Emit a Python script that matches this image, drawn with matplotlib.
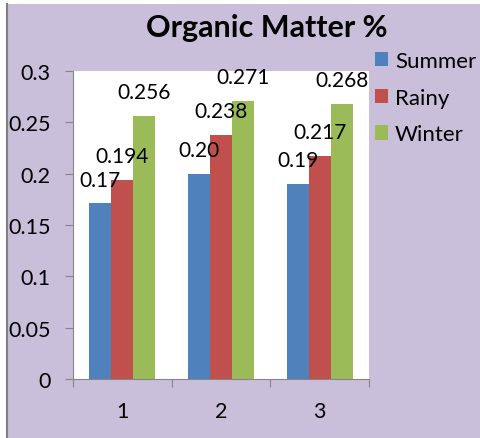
import matplotlib
matplotlib.use("Agg")
import matplotlib.pyplot as plt
import numpy as np
from matplotlib.patches import Rectangle
from matplotlib.lines import Line2D

categories = ["1", "2", "3"]
series_names = ["Summer", "Rainy", "Winter"]
summer = [0.171, 0.200, 0.190]
rainy = [0.194, 0.238, 0.217]
winter = [0.256, 0.271, 0.268]
summer_labels = ["0.17", "0.20", "0.19"]
rainy_labels = ["0.194", "0.238", "0.217"]
winter_labels = ["0.256", "0.271", "0.268"]
yticks = [0, 0.05, 0.1, 0.15, 0.2, 0.25, 0.3]
ytick_labels = ["0", "0.05", "0.1", "0.15", "0.2", "0.25", "0.3"]

colors = ["#4f81bd", "#c0504d", "#9bbb59"]
bg = "#c9bfda"
FONT = "Lato"

W, H = 481, 439
fig = plt.figure(figsize=(W / 100, H / 100), dpi=100, facecolor="white")
fig.patches.append(Rectangle((6 / W, 0), 1 - 6 / W, 1 - 5 / H, transform=fig.transFigure,
                             facecolor=bg, edgecolor="none", zorder=-5))
fig.lines.append(Line2D([6.5 / W, 6.5 / W], [0, 1 - 5 / H], transform=fig.transFigure,
                        color="#7f7f7f", lw=1.5, zorder=-4))

ax = fig.add_axes([73 / W, (H - 380) / H, 296 / W, 308 / H])
ax.set_facecolor("white")

x = np.arange(1, len(categories) + 1)
w = 0.222
all_vals = [summer, rainy, winter]
all_labels = [summer_labels, rainy_labels, winter_labels]
for i, (vals, labs, c, name) in enumerate(zip(all_vals, all_labels, colors, series_names)):
    pos = x + (i - 1) * w
    ax.bar(pos, vals, width=w, color=c, label=name, zorder=2)
    for p, v, t in zip(pos, vals, labs):
        ax.annotate(t, (p, v), xytext=(0, 10), textcoords="offset points",
                    ha="center", va="bottom", fontsize=15, family=FONT, color="black", zorder=3)

ax.set_xlim(0.5, 3.5)
ax.set_ylim(0, 0.3)
ax.set_yticks(yticks)
ax.set_yticklabels(ytick_labels, family=FONT, fontsize=15.5)
ax.set_xticks([0.5, 1.5, 2.5, 3.5])
ax.set_xticklabels([])
ax.set_xticks(x, minor=True)
ax.set_xticklabels(categories, minor=True, family=FONT, fontsize=15.5)
ax.tick_params(axis="x", which="minor", length=0, pad=16)
ax.tick_params(axis="x", which="major", length=6, color="#868686")
ax.tick_params(axis="y", length=6, color="#868686", pad=10)
for s in ["top", "right"]:
    ax.spines[s].set_visible(False)
for s in ["left", "bottom"]:
    ax.spines[s].set_color("#868686")

fig.text(267 / W, 1 - 28 / H, "Organic Matter %", ha="center", va="center",
         fontsize=22, fontweight="bold", family=FONT)

leg = fig.legend(loc="upper left", bbox_to_anchor=(375 / W, 1 - 52 / H), frameon=False,
                 prop={"family": FONT, "size": 16}, handlelength=0.6, handleheight=0.6,
                 handletextpad=0.3, labelspacing=0.75, borderaxespad=0, borderpad=0)

fig.savefig("out.png", dpi=100, facecolor=fig.get_facecolor())
